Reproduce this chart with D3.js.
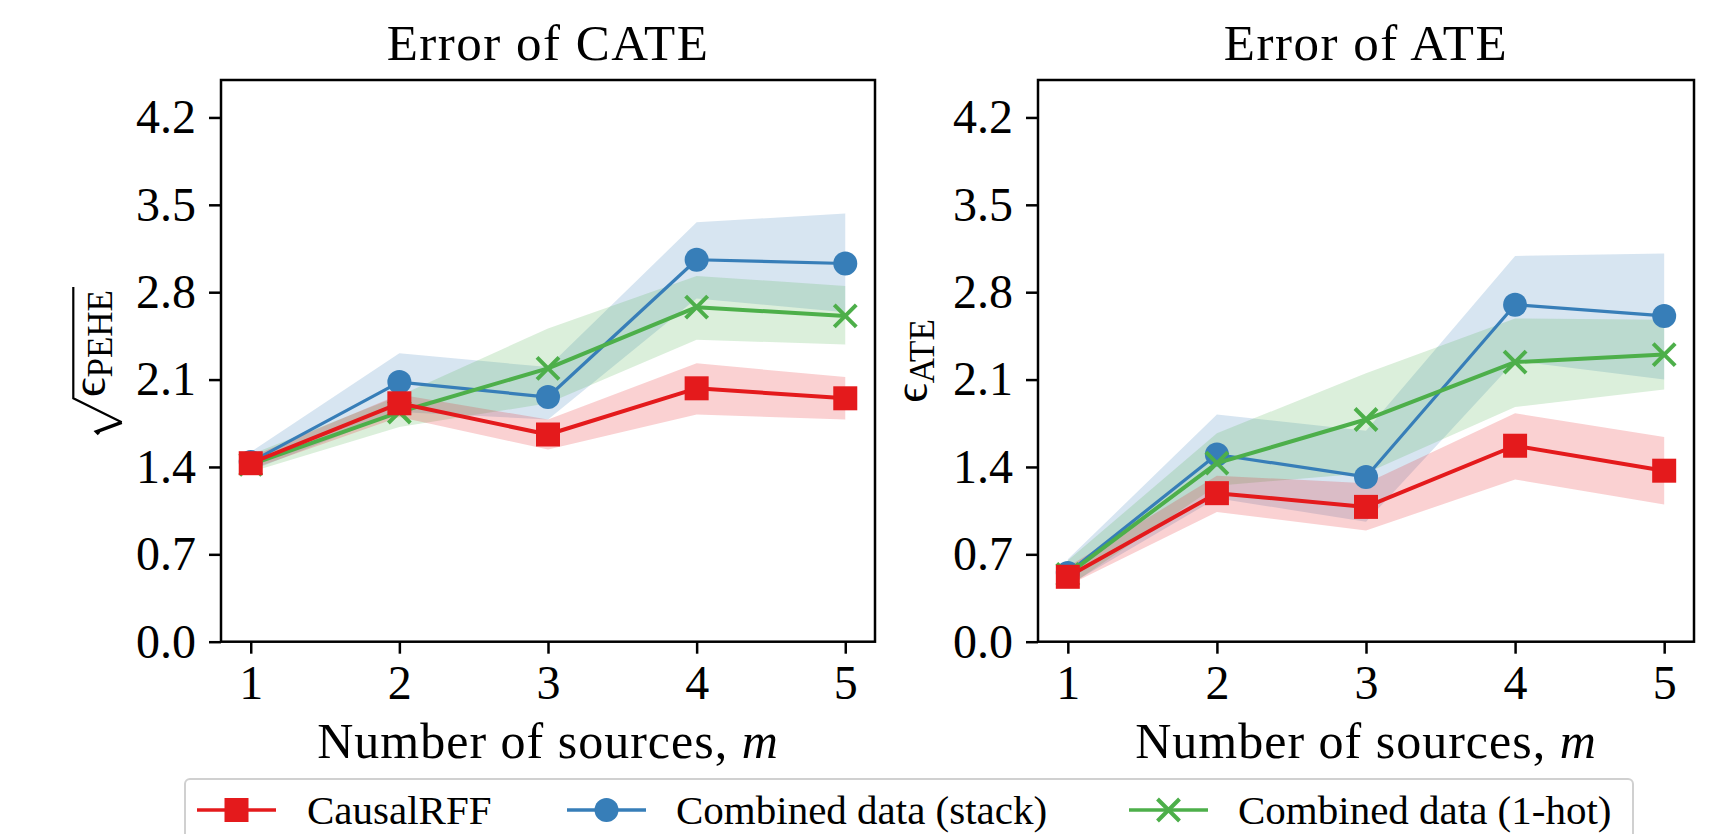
<!DOCTYPE html>
<html>
<head>
<meta charset="utf-8">
<script src="https://cdn.jsdelivr.net/npm/d3@7"></script>
<style>
  body { margin: 0; background: #fff; }
  svg { display: block; font-family: "Liberation Serif", "DejaVu Serif", serif; }
</style>
</head>
<body>
<div id="chart"></div>
<script>
// data
const sources = [1, 2, 3, 4, 5];
const yTicks = [0.0, 0.7, 1.4, 2.1, 2.8, 3.5, 4.2];

// Error of CATE
const cateRff     = [1.43, 1.91, 1.66, 2.03, 1.95];
const cateRffLo   = [1.38, 1.80, 1.54, 1.82, 1.78];
const cateRffHi   = [1.48, 1.98, 1.78, 2.23, 2.12];
const cateStack   = [1.44, 2.08, 1.96, 3.06, 3.03];
const cateStackLo = [1.37, 1.84, 1.78, 2.75, 2.64];
const cateStackHi = [1.52, 2.31, 2.20, 3.36, 3.43];
const cateHot     = [1.42, 1.84, 2.19, 2.68, 2.61];
const cateHotLo   = [1.36, 1.72, 1.91, 2.42, 2.38];
const cateHotHi   = [1.50, 1.97, 2.51, 2.93, 2.85];

// Error of ATE
const ateRff     = [0.52, 1.19, 1.08, 1.57, 1.37];
const ateRffLo   = [0.45, 1.04, 0.89, 1.30, 1.10];
const ateRffHi   = [0.60, 1.33, 1.27, 1.83, 1.64];
const ateStack   = [0.55, 1.50, 1.32, 2.70, 2.61];
const ateStackLo = [0.45, 1.15, 0.96, 2.25, 2.10];
const ateStackHi = [0.66, 1.82, 1.69, 3.09, 3.11];
const ateHot     = [0.54, 1.43, 1.78, 2.24, 2.30];
const ateHotLo   = [0.44, 1.25, 1.35, 1.88, 2.02];
const ateHotHi   = [0.65, 1.67, 2.15, 2.59, 2.58];

const seriesNames = ['CausalRFF', 'Combined data (stack)', 'Combined data (1-hot)'];
const colors = {rff: '#e41a1c', stack: '#377eb8', hot: '#4daf4a'};

const W = 1736, H = 834;
const plotTop = 80, plotBottom = 641.7;

const svg = d3.select('#chart').append('svg')
    .attr('width', W)
    .attr('height', H);

function series(vals, lo, hi){
    return sources.map((m, i) => ({m: m, v: vals[i], lo: lo[i], hi: hi[i]}));
}

function drawPanel(opts){
    const x = d3.scaleLinear().domain([0.8, 5.2]).range([opts.left, opts.right]);
    const y = d3.scaleLinear().domain([0, 4.5]).range([plotBottom, plotTop]);
    const g = svg.append('g');

    const data = {
        rff: series(opts.rff[0], opts.rff[1], opts.rff[2]),
        stack: series(opts.stack[0], opts.stack[1], opts.stack[2]),
        hot: series(opts.hot[0], opts.hot[1], opts.hot[2])
    };

    const area = d3.area()
        .x(d => x(d.m))
        .y0(d => y(d.lo))
        .y1(d => y(d.hi));

    // bands
    ['stack', 'hot', 'rff'].forEach(k => {
        g.append('path')
            .datum(data[k])
            .attr('fill', colors[k])
            .attr('fill-opacity', 0.2)
            .attr('d', area);
    });

    const line = d3.line()
        .x(d => x(d.m))
        .y(d => y(d.v));

    // lines + markers
    const widths = {stack: 3.2, hot: 4, rff: 4};
    ['stack', 'hot', 'rff'].forEach(k => {
        g.append('path')
            .datum(data[k])
            .attr('fill', 'none')
            .attr('stroke', colors[k])
            .attr('stroke-width', widths[k])
            .attr('stroke-linejoin', 'round')
            .attr('d', line);
        const mg = g.append('g').selectAll('g')
            .data(data[k]).join('g')
            .attr('transform', d => `translate(${x(d.m)},${y(d.v)})`);
        drawMarker(mg, k);
    });

    // axes
    const yAxis = d3.axisLeft(y).tickValues(yTicks)
        .tickFormat(d3.format('.1f')).tickSize(12).tickPadding(13);
    const xAxis = d3.axisBottom(x).tickValues(sources)
        .tickFormat(d3.format('d')).tickSize(12).tickPadding(11);

    const ya = g.append('g')
        .attr('transform', `translate(${opts.left},0)`)
        .call(yAxis);
    const xa = g.append('g')
        .attr('transform', `translate(0,${plotBottom})`)
        .call(xAxis);
    [ya, xa].forEach(a => {
        a.select('.domain').remove();
        a.selectAll('line').attr('stroke', '#000').attr('stroke-width', 2.5);
        a.selectAll('text').attr('fill', '#000')
            .style('font-size', '48px')
            .style('font-family', '"Liberation Serif", serif');
    });

    // frame
    g.append('rect')
        .attr('x', opts.left).attr('y', plotTop)
        .attr('width', opts.right - opts.left)
        .attr('height', plotBottom - plotTop)
        .attr('fill', 'none')
        .attr('stroke', '#000')
        .attr('stroke-width', 2.5);

    const cx = (opts.left + opts.right) / 2;
    g.append('text')
        .attr('x', cx).attr('y', 60)
        .attr('text-anchor', 'middle')
        .style('font-size', '51px')
        .style('letter-spacing', '1.5px')
        .text(opts.title);

    const xl = g.append('text')
        .attr('x', cx).attr('y', 758)
        .attr('text-anchor', 'middle')
        .style('font-size', '50px')
        .style('letter-spacing', '1px');
    xl.append('tspan').text('Number of sources, ');
    xl.append('tspan').style('font-style', 'italic').text('m');

    opts.ylabel(g);
}

function drawMarker(sel, k){
    if (k === 'rff') {
        sel.append('rect')
            .attr('x', -12).attr('y', -12)
            .attr('width', 24).attr('height', 24)
            .attr('fill', colors.rff);
    } else if (k === 'stack') {
        sel.append('circle')
            .attr('r', 12)
            .attr('fill', colors.stack);
    } else {
        sel.append('path')
            .attr('d', 'M-11,-11L11,11M-11,11L11,-11')
            .attr('stroke', colors.hot)
            .attr('stroke-width', 4)
            .attr('fill', 'none');
    }
}

// left y label: sqrt of epsilon_PEHE
function cateLabel(g){
    const lab = g.append('g')
        .attr('transform', 'translate(105,361) rotate(-90)');
    const t = lab.append('text')
        .attr('x', -36).attr('y', 0)
        .style('font-size', '48px');
    t.append('tspan').text('ϵ');
    t.append('tspan').attr('dy', 7).style('font-size', '35px').text('PEHE');
    const len = t.node().getComputedTextLength();
    const end = -36 + len + 3;
    lab.append('path')
        .attr('d', `M${end},-31.7L-37.3,-31.7L-61.3,16.7`)
        .attr('fill', 'none')
        .attr('stroke', '#000')
        .attr('stroke-width', 2.2);
    lab.append('path')
        .attr('d', 'M-61.3,16.7L-70.7,-8.3L-73,-6')
        .attr('fill', 'none')
        .attr('stroke', '#000')
        .attr('stroke-width', 3.5)
        .attr('stroke-linejoin', 'miter');
}

function ateLabel(g){
    const t = g.append('text')
        .attr('transform', 'translate(927,361) rotate(-90)')
        .attr('text-anchor', 'middle')
        .style('font-size', '48px');
    t.append('tspan').text('ϵ');
    t.append('tspan').attr('dy', 7).style('font-size', '35px').text('ATE');
}

drawPanel({
    left: 221, right: 875, title: 'Error of CATE',
    rff: [cateRff, cateRffLo, cateRffHi],
    stack: [cateStack, cateStackLo, cateStackHi],
    hot: [cateHot, cateHotLo, cateHotHi],
    ylabel: cateLabel
});
drawPanel({
    left: 1038, right: 1694, title: 'Error of ATE',
    rff: [ateRff, ateRffLo, ateRffHi],
    stack: [ateStack, ateStackLo, ateStackHi],
    hot: [ateHot, ateHotLo, ateHotHi],
    ylabel: ateLabel
});

// legend
const legend = svg.append('g');
legend.append('rect')
    .attr('x', 185).attr('y', 779)
    .attr('width', 1448).attr('height', 70)
    .attr('rx', 5)
    .attr('fill', '#fff')
    .attr('stroke', '#d0d0d0')
    .attr('stroke-width', 2);

const legendItems = [
    {k: 'rff', x0: 197, tx: 307},
    {k: 'stack', x0: 567, tx: 676},
    {k: 'hot', x0: 1129, tx: 1238}
];
legendItems.forEach((it, i) => {
    const ly = 810;
    legend.append('line')
        .attr('x1', it.x0).attr('x2', it.x0 + 79)
        .attr('y1', ly).attr('y2', ly)
        .attr('stroke', colors[it.k])
        .attr('stroke-width', 3.5);
    const mg = legend.append('g')
        .attr('transform', `translate(${it.x0 + 39.5},${ly})`);
    drawMarker(mg, it.k);
    legend.append('text')
        .attr('x', it.tx).attr('y', 824)
        .style('font-size', '41px')
        .text(seriesNames[i]);
});
</script>
</body>
</html>
